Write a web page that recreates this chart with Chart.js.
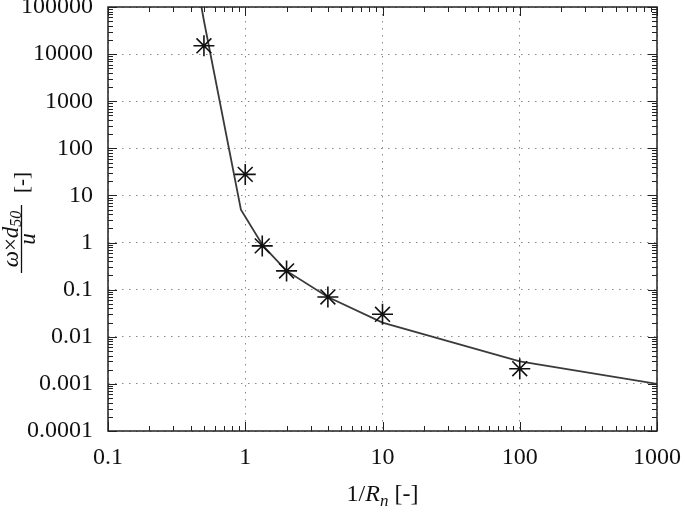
<!DOCTYPE html>
<html>
<head>
<meta charset="utf-8">
<script src="https://cdn.jsdelivr.net/npm/chart.js@4"></script>
<style>
  body { margin: 0; background: #fff; }
</style>
</head>
<body>
<canvas id="myChart" width="685" height="514"></canvas>
<script>
// measured points (stars)
let starX = [0.5, 1, 1.33, 2, 4, 10, 100];
let starY = [15000, 28, 0.85, 0.25, 0.07, 0.03, 0.0021];

// fitted curve
let curveX = [0.48, 0.5, 0.93, 1.35, 2, 4, 10, 100, 1000];
let curveY = [100000, 51000, 5, 0.85, 0.25, 0.07, 0.02, 0.003, 0.001];

// decade tick labels
let xTicks = [0.1, 1, 10, 100, 1000];
let yTicks = [0.0001, 0.001, 0.01, 0.1, 1, 10, 100, 1000, 10000, 100000];

const SERIF = "'Liberation Serif', 'Times New Roman', serif";

function toPoints(xs, ys) {
    return xs.map((x, i) => ({ x: x, y: ys[i] }));
}

// decades plus 2..9 in between (for the small tick marks)
function withMinors(decades) {
    let out = [];
    decades.forEach((d, i) => {
        out.push({ value: d });
        if (i < decades.length - 1) {
            for (let m = 2; m <= 9; m++) out.push({ value: d * m });
        }
    });
    return out;
}

function isDecade(v) {
    let l = Math.log10(v);
    return Math.abs(l - Math.round(l)) < 1e-6;
}

function tickLabel(decades) {
    return function (value) {
        let hit = decades.find(d => Math.abs(d - value) / d < 1e-6);
        return hit === undefined ? "" : String(hit);
    };
}

function zeroPadding(scale) {
    scale.paddingLeft = 0;
    scale.paddingRight = 0;
    scale.paddingTop = 0;
    scale.paddingBottom = 0;
}

// frame box + inward tick marks on all four sides
let framePlugin = {
    id: "frame",
    afterDatasetsDraw(chart) {
        let ctx = chart.ctx;
        let a = chart.chartArea;
        let xs = chart.scales.x;
        let ys = chart.scales.y;
        ctx.save();
        ctx.strokeStyle = "#222";
        ctx.lineWidth = 1;
        ctx.beginPath();
        xs.ticks.forEach(t => {
            let len = isDecade(t.value) ? 9 : 5;
            let px = Math.round(xs.getPixelForValue(t.value)) + 0.5;
            ctx.moveTo(px, a.bottom); ctx.lineTo(px, a.bottom - len);
            ctx.moveTo(px, a.top); ctx.lineTo(px, a.top + len);
        });
        ys.ticks.forEach(t => {
            let len = isDecade(t.value) ? 9 : 5;
            let py = Math.round(ys.getPixelForValue(t.value)) + 0.5;
            ctx.moveTo(a.left, py); ctx.lineTo(a.left + len, py);
            ctx.moveTo(a.right, py); ctx.lineTo(a.right - len, py);
        });
        ctx.stroke();
        ctx.lineWidth = 1.5;
        ctx.strokeRect(a.left, a.top, a.right - a.left, a.bottom - a.top);
        ctx.restore();
    },
    afterDraw(chart) {
        let ctx = chart.ctx;
        let a = chart.chartArea;
        ctx.save();
        ctx.fillStyle = "#111";
        ctx.textBaseline = "alphabetic";

        // x title: 1/R_n [-]
        let parts = [
            { t: "1/", f: "24px " + SERIF, dy: 0 },
            { t: "R", f: "italic 24px " + SERIF, dy: 0 },
            { t: "n", f: "italic 17px " + SERIF, dy: 5 },
            { t: " [-]", f: "24px " + SERIF, dy: 0 }
        ];
        let w = 0;
        parts.forEach(p => { ctx.font = p.f; p.w = ctx.measureText(p.t).width; w += p.w; });
        let x = (a.left + a.right) / 2 - w / 2;
        parts.forEach(p => {
            ctx.font = p.f;
            ctx.fillText(p.t, x, 501 + p.dy);
            x += p.w;
        });

        // y title: fraction (omega x d50) / u  [-], rotated
        ctx.translate(21.5, 239);
        ctx.rotate(-Math.PI / 2);
        ctx.strokeStyle = "#111";
        ctx.lineWidth = 1.3;
        ctx.beginPath();
        ctx.moveTo(-34, 0);
        ctx.lineTo(34, 0);
        ctx.stroke();

        let num = [
            { t: "\u03c9", f: "italic 23px " + SERIF, dy: 0 },
            { t: "\u00d7", f: "23px " + SERIF, dy: 0 },
            { t: "d", f: "italic 23px " + SERIF, dy: 0 },
            { t: "50", f: "italic 16px " + SERIF, dy: 3 }
        ];
        w = 0;
        num.forEach(p => { ctx.font = p.f; p.w = ctx.measureText(p.t).width; w += p.w; });
        x = -w / 2;
        num.forEach(p => {
            ctx.font = p.f;
            ctx.fillText(p.t, x, -4 + p.dy);
            x += p.w;
        });

        ctx.font = "italic 23px " + SERIF;
        ctx.textAlign = "center";
        ctx.fillText("u", 0, 13.5);

        ctx.font = "21px " + SERIF;
        ctx.textAlign = "left";
        ctx.fillText("[-]", 46, 6);
        ctx.restore();
    }
};

let canvas = document.getElementById("myChart");
let ctx = canvas.getContext("2d");

let myChart = new Chart(ctx, {
    type: "scatter",
    data: {
        datasets: [{
            label: "curve",
            data: toPoints(curveX, curveY),
            showLine: true,
            borderColor: "#3a3a3a",
            borderWidth: 1.8,
            pointRadius: 0,
            tension: 0,
            order: 2
        }, {
            label: "measured",
            data: toPoints(starX, starY),
            showLine: false,
            pointStyle: "star",
            pointRadius: 10.5,
            borderColor: "#111",
            backgroundColor: "#111",
            borderWidth: 1.6,
            order: 1
        }]
    },
    options: {
        responsive: false,
        animation: false,
        events: [],
        layout: {
            autoPadding: false,
            padding: { left: 0, right: 28, top: 7, bottom: 0 }
        },
        plugins: {
            legend: { display: false },
            tooltip: { enabled: false }
        },
        scales: {
            x: {
                type: "logarithmic",
                min: 0.1,
                max: 1000,
                afterBuildTicks: scale => { scale.ticks = withMinors(xTicks); },
                afterFit: scale => { scale.height = 83; zeroPadding(scale); },
                grid: {
                    drawTicks: false,
                    lineWidth: 1,
                    color: c => (c.tick && isDecade(c.tick.value)) ? "#8a8a8a" : "rgba(0,0,0,0)"
                },
                border: { display: false, dash: [1.5, 5.5] },
                ticks: {
                    autoSkip: false,
                    maxRotation: 0,
                    padding: 12,
                    color: "#111",
                    font: { family: SERIF, size: 24 },
                    callback: tickLabel(xTicks)
                }
            },
            y: {
                type: "logarithmic",
                min: 0.0001,
                max: 100000,
                afterBuildTicks: scale => { scale.ticks = withMinors(yTicks); },
                afterFit: scale => { scale.width = 108; zeroPadding(scale); },
                grid: {
                    drawTicks: false,
                    lineWidth: 1,
                    color: c => (c.tick && isDecade(c.tick.value)) ? "#8a8a8a" : "rgba(0,0,0,0)"
                },
                border: { display: false, dash: [1.5, 5.5] },
                ticks: {
                    autoSkip: false,
                    padding: 15,
                    color: "#111",
                    font: { family: SERIF, size: 24 },
                    callback: tickLabel(yTicks)
                }
            }
        }
    },
    plugins: [framePlugin]
});
</script>
</body>
</html>
